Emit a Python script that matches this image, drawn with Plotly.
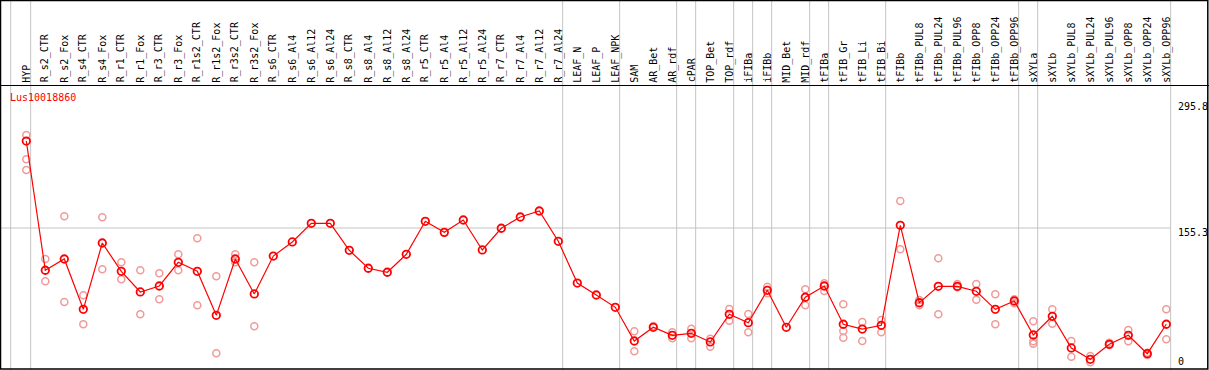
import plotly.graph_objects as go

gene_id = "Lus10018860"

categories = [
    "HYP", "R_s2_CTR", "R_s2_Fox", "R_s4_CTR", "R_s4_Fox", "R_r1_CTR", "R_r1_Fox",
    "R_r3_CTR", "R_r3_Fox", "R_r1s2_CTR", "R_r1s2_Fox", "R_r3s2_CTR", "R_r3s2_Fox",
    "R_s6_CTR", "R_s6_Al4", "R_s6_Al12", "R_s6_Al24", "R_s8_CTR", "R_s8_Al4",
    "R_s8_Al12", "R_s8_Al24", "R_r5_CTR", "R_r5_Al4", "R_r5_Al12", "R_r5_Al24",
    "R_r7_CTR", "R_r7_Al4", "R_r7_Al12", "R_r7_Al24", "LEAF_N", "LEAF_P", "LEAF_NPK",
    "SAM", "AR_Bet", "AR_rdf", "cPAR", "TOP_Bet", "TOP_rdf", "iFIBa", "iFIBb",
    "MID_Bet", "MID_rdf", "tFIBa", "tFIB_Gr", "tFIB_Li", "tFIB_Bi", "tFIBb",
    "tFIBb_PUL8", "tFIBb_PUL24", "tFIBb_PUL96", "tFIBb_OPP8", "tFIBb_OPP24",
    "tFIBb_OPP96", "sXYLa", "sXYLb", "sXYLb_PUL8", "sXYLb_PUL24", "sXYLb_PUL96",
    "sXYLb_OPP8", "sXYLb_OPP24", "sXYLb_OPP96",
]

# sizes of the column groups separated by vertical grid lines
group_sizes = [1, 28, 3, 3, 1, 2, 1, 1, 2, 1, 3, 7, 1, 7]

mean_values = [
    255.5, 106.6, 119.6, 61.6, 138.0, 105.4, 81.6, 88.5, 115.8, 105.4, 54.7, 119.6, 79.3,
    123.0, 139.2, 160.7, 160.7, 129.6, 108.9, 104.3, 125.0, 163.0, 150.3, 164.5, 130.0,
    155.0, 168.0, 174.9, 140.0, 91.9, 78.1, 63.9,
    25.1, 40.9, 31.7, 34.0, 24.0, 55.9, 46.2, 83.5, 40.9, 75.5, 88.5, 44.4, 38.9, 43.2,
    158.4, 69.2, 88.1, 88.1, 82.4, 61.6, 71.2, 32.0, 53.6, 17.1, 4.0, 21.3, 31.7, 10.5, 44.4,
]

rep_a = [
    262.4, 119.6, 168.8, 77.8, 167.6, 115.8, 106.6, 103.1, 125.0, 143.4, 99.7, 125.0, 115.8,
    None, None, None, None, None, None, None, None, None, None, None, None,
    None, None, None, None, None, None, None,
    36.3, 42.4, 35.1, 39.3, 27.8, 62.0, 56.2, 87.7, None, 84.7, 91.6, 67.4, 47.0, 49.3,
    186.4, 72.4, 120.4, 90.8, 90.8, 78.9, 73.2, 47.8, 61.6, 25.1, 7.8, 23.2, 37.8, 11.6, 61.6,
]
rep_b = [
    234.4, 93.9, 70.0, 44.4, 107.7, 96.2, 55.9, 73.2, 106.6, 66.2, 10.9, 115.8, 42.1,
    None, None, None, None, None, None, None, None, None, None, None, None,
    None, None, None, None, None, None, None,
    13.2, None, 28.2, 28.2, 18.5, 48.5, 35.1, 80.1, None, 66.2, 82.7, 36.6, 25.1, 35.1,
    130.8, 66.2, 55.9, 87.0, 72.7, 44.4, 68.5, 24.8, 45.0, 7.0, 0.6, 20.5, 24.8, 9.0, 27.1,
]
rep_c = [
    222.1, None, None, None, None, None, None, None, None, None, None, None, None,
    None, None, None, None, None, None, None, None, None, None, None, None,
    None, None, None, None, None, None, None,
    None, None, None, None, None, None, None, None, None, None, None, 28.9, None, None,
    None, None, None, None, None, None, None, 22.0, None, None, None, None, None, None, None,
]

axis_labels = [295.8, 155.3, 0]

W, H = 1209, 370
# pixel mapping: column i at x = 26.3 + 19*i ; value v at y = 362.8 - 0.868*v
x_range = [-26.3 / 19, (W - 26.3) / 19]
y_range = [(362.8 - H) / 0.868, 362.8 / 0.868]


def py(p):
    return 1 - p / H


xs = list(range(len(categories)))

rep_x, rep_y = [], []
for reps in (rep_a, rep_b, rep_c):
    for i, v in enumerate(reps):
        if v is not None:
            rep_x.append(i)
            rep_y.append(v)

fig = go.Figure()
fig.add_trace(go.Scatter(
    x=rep_x, y=rep_y, mode="markers",
    marker=dict(symbol="circle-open", size=7, color="#f09a9a", line=dict(width=1.5, color="#f09a9a")),
    hoverinfo="skip", showlegend=False,
))
fig.add_trace(go.Scatter(
    x=xs, y=mean_values, mode="lines+markers",
    line=dict(color="#ff0000", width=1.2),
    marker=dict(symbol="circle-open", size=7.5, color="#ff0000", line=dict(width=1.8, color="#ff0000")),
    hoverinfo="skip", showlegend=False,
))

shapes = []
grid_col = "#c4c4c4"
# vertical grid lines: one before the first column, then after each group
vlines = [-0.821]
end = -1
for g in group_sizes:
    end += g
    vlines.append(end + 0.23)
for xv in vlines:
    shapes.append(dict(type="line", xref="x", yref="paper", x0=xv, x1=xv, y0=0, y1=1,
                       line=dict(color=grid_col, width=1), layer="below"))
# horizontal grid line at middle value
shapes.append(dict(type="line", xref="x", yref="y", x0=x_range[0], x1=vlines[-1],
                   y0=axis_labels[1], y1=axis_labels[1], line=dict(color=grid_col, width=1), layer="below"))
# header separator
shapes.append(dict(type="line", xref="paper", yref="paper", x0=0, x1=1, y0=py(85.5), y1=py(85.5),
                   line=dict(color="black", width=1)))
# frame
shapes.append(dict(type="rect", xref="paper", yref="paper", x0=0.5 / W, x1=1207.8 / W,
                   y0=py(369), y1=py(0.5), line=dict(color="black", width=1.5)))

mono = "DejaVu Sans Mono"
annotations = []
for i, c in enumerate(categories):
    annotations.append(dict(x=i, y=py(83.5), xref="x", yref="paper", text=c, textangle=-90,
                            showarrow=False, xanchor="center", yanchor="bottom",
                            font=dict(family=mono, size=10, color="black"), borderpad=0))
annotations.append(dict(x=8.5 / W, y=py(97), xref="paper", yref="paper", text=gene_id,
                        showarrow=False, xanchor="left", yanchor="middle",
                        font=dict(family=mono, size=10, color="#ff0000"), borderpad=0))
shifts = [0, -4, 1]
for v, s in zip(axis_labels, shifts):
    annotations.append(dict(x=1177 / W, y=v, xref="paper", yref="y", text=f"{v:g}",
                            showarrow=False, xanchor="left", yanchor="middle", yshift=s,
                            font=dict(family=mono, size=10, color="black"), borderpad=0))

fig.update_layout(
    width=W, height=H, autosize=False,
    margin=dict(l=0, r=0, t=0, b=0, pad=0),
    paper_bgcolor="white", plot_bgcolor="white",
    xaxis=dict(range=x_range, visible=False, fixedrange=True),
    yaxis=dict(range=y_range, visible=False, fixedrange=True),
    shapes=shapes, annotations=annotations,
)

fig.write_html(
    "out.html",
    config={"displayModeBar": False, "staticPlot": True},
    post_script="document.body.style.margin='0';document.body.style.padding='0';document.body.style.overflow='hidden';",
)
